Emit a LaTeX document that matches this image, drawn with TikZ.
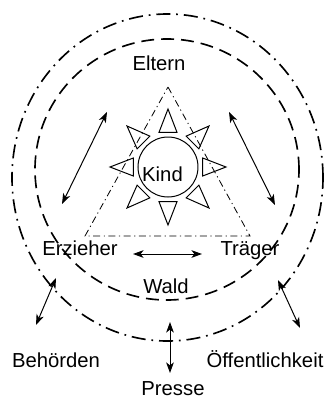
\documentclass[tikz,border=0pt]{standalone}
\usepackage{fontspec}
\setmainfont{Liberation Sans}
\usepackage{tikz}
\usetikzlibrary{arrows.meta, positioning, calc}
\tikzset{
    lbl/.style={font=\fontsize{17.3}{20}\selectfont, inner sep=0pt, anchor=base},
    outerring/.style={line width=1.4pt, draw=black,
                      dash pattern=on 12pt off 5pt on 1.5pt off 5pt},
    innerring/.style={line width=1.4pt, draw=black,
                      dash pattern=on 11pt off 6pt},
    tri/.style={line width=0.7pt, draw=black,
                dash pattern=on 6pt off 3pt on 1pt off 3pt},
    ray/.style={line width=0.85pt, draw=black},
    arr/.style={{Stealth[length=9pt,width=6.5pt,inset=2.5pt]}-{Stealth[length=9pt,width=6.5pt,inset=2.5pt]},
                line width=0.85pt, draw=black}
}

\begin{document}
\begin{tikzpicture}
\useasboundingbox (-5.04,-6.99) rectangle (4.8,5.01);

% rings and triangle
\draw[outerring] (-0.015,-0.315) ellipse (4.665 and 4.905);
\draw[innerring] (-0.03,-0.075) ellipse (3.96 and 3.915);
\draw[tri] (0,2.4) -- (2.46,-2.07) -- (-2.49,-2.07) -- cycle;

% sun
\node[circle, ray, minimum size=1.8cm, inner sep=0pt] at (0,0) (kind) {};
\foreach \a in {0,45,...,315}
  \draw[ray, shift={(kind.center)}, rotate=\a] (1.04,-0.27) -- (1.74,0) -- (1.04,0.27) -- cycle;

% labels
\node[lbl] at (-0.165,-0.42) (kindtxt) {Kind};
\node[lbl] at (-0.27,2.91)   (eltern)  {Eltern};
\node[lbl] at (-2.64,-2.64)  (erz)     {Erzieher};
\node[lbl] at (2.46,-2.64)   (traeger) {Träger};
\node[lbl] at (-0.06,-3.78)  (wald)    {Wald};
\node[lbl] at (-3.36,-6.0)   (beh)     {Behörden};
\node[lbl] at (2.91,-6.0)    (oeff)    {Öffentlichkeit};
\node[lbl] at (0.15,-6.86)   (presse)  {Presse};

% arrow ends
\coordinate (a1) at (-1.83,1.65);  \coordinate (b1) at (-3.18,-1.11);
\coordinate (a2) at (1.83,1.65);   \coordinate (b2) at (3.21,-1.14);
\coordinate (a3) at (-1.05,-2.61); \coordinate (b3) at (1.02,-2.61);
\coordinate (a4) at (-3.36,-3.33); \coordinate (b4) at (-3.96,-4.74);
\coordinate (a5) at (3.3,-3.39);   \coordinate (b5) at (3.96,-4.83);
\coordinate (a6) at (0.06,-4.65);  \coordinate (b6) at (0.06,-6.18);

\draw[arr] (a1) -- (b1);
\draw[arr] (a2) -- (b2);
\draw[arr] (a3) -- (b3);
\draw[arr] (a4) -- (b4);
\draw[arr] (a5) -- (b5);
\draw[arr] (a6) -- (b6);
\end{tikzpicture}
\end{document}
